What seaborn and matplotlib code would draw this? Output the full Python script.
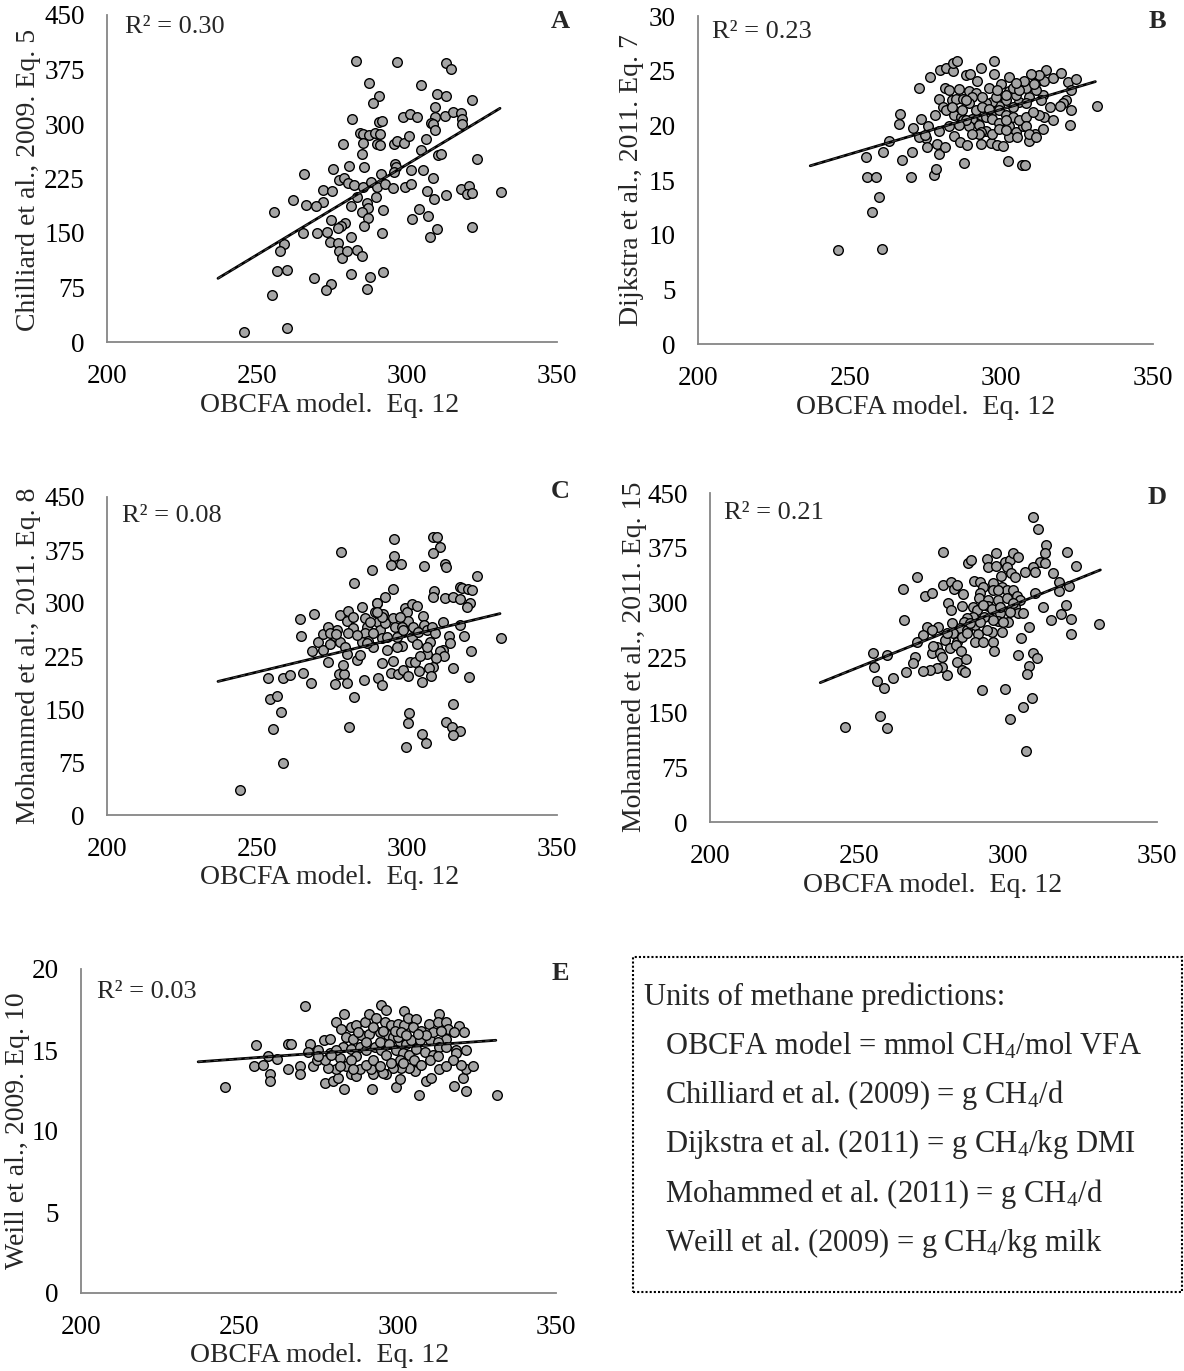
import numpy as np
import pandas as pd
import matplotlib
matplotlib.use("Agg")
import matplotlib.pyplot as plt
import seaborn as sns
from matplotlib.patches import Rectangle

# ---------------- data ----------------
x_ticks = [200, 250, 300, 350]
x_label = "OBCFA model.  Eq. 12"

a_pts = [(283.0,386.7),(296.6,384.9),(313.0,384.4),(314.8,375.2),(287.3,356.9),(304.6,353.7),(290.8,339.0),(288.7,328.4),(309.9,341.3),(313.0,338.5),(321.7,332.6),(309.4,323.9),(281.7,307.3),(298.6,309.2),(301.0,313.8),(303.3,309.6),(309.2,309.2),(312.8,310.6),(315.4,316.5),(317.9,315.6),(318.2,306.9),(318.3,299.6),(307.9,300.9),(308.6,300.0),(309.2,291.7),(290.7,302.3),(291.7,303.7),(284.3,287.2),(285.4,285.8),(287.3,284.9),(289.2,287.6),(291.0,285.8),(278.8,272.9),(285.4,273.4),(290.1,272.5),(291.1,271.1),(295.8,272.0),(296.6,277.1),(299.1,274.3),(300.8,284.0),(306.3,279.4),(304.8,264.7),(310.4,257.3),(311.2,258.7),(323.4,252.3),(284.9,259.2),(275.4,238.5),(280.6,242.2),(285.8,240.8),(296.1,245.0),(296.3,240.8),(295.7,234.4),(301.2,237.2),(305.4,237.2),(291.2,231.2),(265.7,231.7),(277.2,222.9),(279.0,225.2),(280.2,219.3),(282.3,216.5),(285.4,213.8),(287.9,219.7),(289.9,212.9),(292.7,217.4),(295.2,211.5),(299.3,213.8),(301.3,217.4),(308.8,225.7),(306.6,208.3),(312.9,201.8),(309.1,197.3),(317.9,211.0),(320.6,215.1),(320.1,204.1),(321.6,204.6),(331.2,206.4),(272.1,209.2),(275.0,207.8),(272.1,193.1),(269.7,186.7),(266.3,189.0),(262.1,195.0),(255.7,179.4),(283.2,200.0),(281.2,187.6),(286.7,190.8),(287.0,184.0),(284.9,179.4),(289.6,199.1),(292.1,181.2),(287.1,170.2),(285.6,160.1),(274.7,168.4),(279.4,163.8),(277.9,159.6),(277.0,156.4),(281.3,144.5),(291.8,149.5),(301.8,169.3),(304.0,182.6),(307.0,172.9),(310.1,155.5),(307.7,144.5),(321.7,157.8),(265.4,150.5),(269.9,150.5),(273.2,151.4),(274.4,137.6),(276.9,136.2),(277.4,124.8),(278.3,115.2),(279.9,124.8),(283.3,126.6),(285.1,118.8),(259.1,134.9),(257.8,125.7),(256.6,97.3),(260.1,99.6),(269.1,88.1),(274.8,79.8),(272.9,72.0),(281.3,93.1),(287.7,89.5),(292.1,95.9),(286.6,73.4),(254.9,64.2),(259.9,19.7),(245.6,13.8)]

b_pts = [(246.3,8.6),(260.7,8.7),(257.4,12.1),(259.7,13.4),(255.8,15.3),(258.6,15.3),(255.5,17.1),(261.0,17.6),(262.9,18.6),(267.1,16.8),(270.1,15.3),(270.5,17.6),(266.4,20.1),(266.7,21.0),(272.7,23.4),(276.5,24.4),(271.0,19.8),(273.4,20.6),(275.1,18.8),(275.4,18.0),(277.7,15.5),(278.4,16.0),(278.8,18.3),(279.3,17.4),(281.5,18.0),(278.2,20.9),(275.7,19.9),(279.8,25.1),(281.8,25.2),(284.2,25.0),(284.1,25.7),(285.4,25.9),(288.2,24.6),(289.8,24.7),(293.2,25.25),(297.6,25.9),(297.6,24.7),(292.1,24.1),(299.8,23.8),(281.5,23.45),(282.7,23.2),(286.2,23.3),(289.3,23.1),(291.7,23.0),(279.3,22.45),(283.7,22.3),(285.1,22.45),(287.2,22.4),(280.8,21.7),(281.9,21.4),(284.3,20.9),(286.8,20.8),(287.3,20.5),(290.4,20.6),(293.2,20.9),(294.8,20.8),(296.5,21.1),(297.0,20.6),(284.4,19.0),(286.5,18.5),(288.7,18.2),(287.6,16.6),(293.2,18.3),(296.5,18.4),(298.7,18.2),(300.6,18.1),(302.3,16.7),(306.8,16.4),(307.9,16.4),(289.3,19.9),(292.6,20.0),(294.8,19.5),(293.2,19.4),(297.0,19.2),(299.2,20.2),(302.6,19.9),(304.8,19.4),(302.6,18.9),(305.3,18.9),(307.0,19.9),(309.0,18.6),(311.2,19.2),(313.6,19.7),(314.2,20.8),(312.5,20.9),(317.0,20.5),(322.5,20.0),(323.1,21.4),(321.4,22.3),(320.3,22.0),(319.2,21.8),(315.9,21.7),(313.6,22.8),(311.4,23.2),(309.2,22.6),(308.1,23.4),(311.4,24.0),(314.2,24.1),(314.8,25.1),(312.5,24.6),(309.8,24.7),(307.6,24.1),(310.7,23.8),(317.0,24.3),(319.7,24.8),(321.9,24.0),(324.7,24.2),(323.1,23.2),(331.5,21.8),(305.9,22.1),(303.7,21.7),(301.5,22.3),(299.2,21.8),(302.6,23.1),(304.8,22.75),(297.0,22.1),(294.8,22.0),(293.7,22.6),(290.4,22.6),(289.3,22.0),(287.1,21.4),(283.7,21.7),(299.2,21.4),(301.5,20.9),(303.7,20.8),(305.9,20.5),(308.1,20.8),(310.3,21.2),(301.5,20.5),(298.1,22.6),(295.9,23.4),(298.7,23.2),(301.5,22.75),(303.7,23.45),(305.9,23.2),(299.2,19.7),(301.5,19.6),(308.1,19.9),(309.2,19.2),(311.4,18.9),(292.6,19.2),(290.4,19.2),(288.2,20.5),(286.0,20.0),(291.5,21.4),(293.7,21.7),(295.9,21.5),(308.1,22.0),(313.1,22.3),(302.6,24.4),(304.8,23.9),(288.2,22.3),(279.3,19.5),(282.6,19.9),(272.7,18.9),(274.9,19.1)]

c_pts = [(244.3,36.0),(258.8,73.1),(255.2,122.2),(257.9,145.7),(254.3,163.7),(256.6,168.9),(253.8,193.4),(258.8,194.3),(261.0,198.1),(265.2,200.5),(267.9,186.3),(264.3,276.9),(264.6,253.8),(269.0,284.0),(268.2,232.1),(270.2,245.3),(272.1,233.5),(271.9,256.1),(273.8,266.5),(274.3,242.0),(273.8,217.0),(276.0,253.8),(278.0,372.2),(282.3,328.8),(288.4,346.7),(295.8,390.6),(295.8,367.0),(294.7,353.8),(298.0,354.7),(295.2,319.3),(292.7,308.0),(290.1,299.5),(305.8,352.3),(308.8,393.9),(310.1,393.9),(311.0,379.7),(308.8,370.3),(312.7,355.2),(312.9,351.4),(323.2,338.2),(317.7,323.1),(318.2,320.8),(320.4,319.3),(321.6,318.4),(309.0,317.4),(308.8,309.0),(312.7,306.6),(315.2,309.0),(317.7,305.2),(321.0,299.5),(319.9,294.8),(331.2,250.9),(317.7,268.9),(319.0,253.8),(314.1,253.8),(314.3,243.9),(312.1,233.5),(311.0,231.6),(312.3,225.5),(309.7,222.6),(308.8,209.9),(307.4,208.5),(308.1,196.7),(315.2,208.5),(320.8,195.8),(321.4,231.6),(304.9,187.7),(304.1,203.8),(301.0,217.0),(302.7,217.0),(306.8,227.4),(304.3,225.5),(315.2,157.1),(300.8,143.9),(300.4,130.6),(299.7,96.7),(305.0,114.1),(306.3,102.3),(313.0,131.1),(314.9,125.0),(317.7,119.3),(315.4,113.2),(280.8,125.0),(282.3,166.5),(276.0,184.9),(277.2,199.5),(279.0,199.5),(279.9,187.3),(278.8,212.3),(285.8,191.0),(290.4,194.3),(291.6,184.0),(294.7,200.5),(297.1,199.1),(298.8,204.7),(300.2,196.7),(295.2,217.9),(291.6,215.6),(277.7,283.0),(280.4,289.1),(279.9,275.0),(282.1,264.1),(280.4,257.1),(277.7,245.3),(279.3,238.2),(279.9,227.3),(283.2,219.3),(284.3,226.4),(284.9,293.9),(286.0,278.3),(286.6,266.5),(286.0,257.1),(287.1,246.7),(288.8,237.3),(289.9,300.5),(289.3,287.7),(292.1,284.4),(290.4,273.6),(291.0,261.8),(291.6,250.0),(293.2,233.5),(295.4,278.3),(296.0,266.5),(296.6,252.4),(298.2,239.2),(299.3,292.4),(300.1,287.7),(301.6,298.6),(303.2,295.7),(300.4,275.0),(301.9,266.5),(301.6,252.4),(303.2,242.0),(305.4,281.6),(305.7,268.9),(306.6,261.8),(308.2,266.5),(309.3,257.1),(307.7,245.3),(306.6,238.2),(312.1,273.6),(298.2,266.5),(284.9,245.3),(287.7,273.6),(292.7,271.2),(283.2,254.7),(282.1,280.6),(288.8,257.1),(293.2,252.4),(298.8,261.8),(303.8,259.4),(296.6,238.2),(297.7,280.6),(286.6,242.9),(276.6,261.8),(274.3,257.1),(276.3,256.1),(291.6,280.6),(290.1,287.7)]

d_pts = [(308.5,416.8),(309.9,400.8),(312.6,379.0),(312.4,368.5),(319.9,368.9),(322.8,350.2),(310.7,356.2),(312.4,353.9),(308.5,349.3),(309.1,342.5),(305.7,342.5),(315.0,341.1),(317.2,328.8),(320.6,322.9),(317.2,316.5),(309.1,312.8),(311.9,293.7),(319.5,296.9),(317.8,284.6),(321.0,278.2),(314.3,276.4),(321.0,257.2),(330.7,270.9),(278.3,369.8),(269.4,335.6),(264.9,318.8),(272.2,309.2),(274.4,313.8),(278.1,324.2),(280.8,328.8),(281.9,318.3),(282.8,324.2),(285.0,311.5),(265.1,276.4),(280.0,299.2),(280.8,290.0),(284.5,295.5),(286.7,354.8),(287.5,358.4),(293.1,359.8),(296.0,368.5),(293.4,348.4),(296.0,350.2),(299.0,356.2),(300.7,358.4),(301.6,368.5),(303.5,362.1),(299.6,348.4),(300.9,340.2),(302.4,334.7),(297.5,336.5),(288.6,330.2),(290.6,328.8),(291.5,321.0),(294.9,327.4),(295.1,317.4),(297.9,321.9),(299.6,317.4),(290.6,312.8),(290.4,306.0),(293.4,303.7),(296.8,303.7),(299.6,306.0),(301.8,317.4),(302.9,309.2),(304.0,303.7),(288.4,294.6),(289.5,290.0),(293.4,295.5),(294.5,290.9),(302.4,294.6),(303.5,285.5),(300.7,287.8),(305.2,286.4),(297.3,285.5),(300.1,274.1),(296.8,275.0),(298.2,274.1),(295.1,276.4),(292.0,280.9),(290.1,275.4),(288.4,280.9),(286.1,278.6),(285.2,274.1),(283.9,264.9),(286.1,262.7),(288.9,269.5),(290.6,274.1),(276.6,267.2),(272.7,266.3),(271.6,255.8),(274.4,262.7),(269.4,246.7),(278.9,249.0),(281.7,258.1),(282.8,246.7),(284.5,253.6),(286.4,258.1),(290.1,257.2),(288.9,246.7),(291.7,246.7),(295.1,246.7),(295.3,234.0),(294.5,260.4),(297.9,260.4),(307.2,267.2),(304.3,251.3),(303.5,228.5),(308.5,230.8),(309.6,223.9),(307.2,213.9),(306.5,202.0),(279.4,258.1),(276.1,239.9),(274.4,230.8),(277.2,231.7),(277.8,226.2),(274.7,240.8),(280.5,237.6),(282.6,242.2),(284.1,234.4),(282.8,219.4),(285.9,223.0),(284.5,208.0),(285.6,205.7),(279.4,201.1),(277.8,212.5),(276.3,210.2),(273.8,208.0),(271.4,207.0),(268.8,226.2),(268.2,218.0),(265.8,205.7),(261.5,196.6),(259.5,228.5),(254.6,230.8),(255.0,212.5),(255.9,192.9),(258.5,183.8),(257.1,145.5),(259.3,128.2),(245.2,130.4),(291.2,180.6),(299.0,182.4),(300.7,140.9),(304.9,156.9),(308.0,169.2),(306.1,97.6),(291.7,296.9),(296.8,317.4),(301.8,299.2),(292.9,262.7),(287.3,271.8),(281.1,271.8),(297.3,294.6)]

e_pts = [(245.4,12.7),(270.6,17.7),(331.4,12.25),(306.6,12.2),(283.0,17.2),(294.8,17.8),(296.4,17.5),(302.1,17.4),(313.0,17.2),(255.2,15.3),(265.4,15.4),(266.4,15.4),(254.5,14.0),(257.5,14.1),(259.1,14.6),(262.0,14.45),(259.8,13.5),(259.8,13.1),(265.3,13.85),(269.0,14.0),(269.3,13.5),(272.2,15.4),(271.7,14.9),(273.3,14.0),(274.5,14.4),(274.9,15.0),(276.6,15.6),(278.5,15.7),(277.2,12.95),(279.6,13.1),(281.1,13.25),(280.6,13.8),(278.0,13.9),(276.9,14.4),(278.5,14.8),(281.7,14.5),(283.8,14.0),(285.3,13.5),(286.7,13.4),(288.0,13.8),(283.0,12.6),(292.0,12.6),(299.5,12.7),(300.6,13.2),(309.0,13.1),(310.6,13.3),(317.9,12.8),(321.6,12.5),(320.6,13.25),(321.6,13.8),(323.7,14.0),(320.0,14.1),(313.0,13.8),(306.9,14.1),(305.6,13.7),(303.7,13.9),(301.1,13.9),(298.5,13.9),(296.4,13.5),(295.3,13.6),(292.2,13.5),(291.7,13.8),(290.1,14.1),(280.4,16.7),(282.2,16.3),(285.3,16.4),(286.9,16.55),(289.6,16.75),(290.8,17.2),(293.2,17.0),(295.9,16.7),(298.0,16.55),(300.1,16.6),(301.9,16.55),(303.2,16.95),(305.8,16.9),(304.8,16.45),(307.4,16.2),(309.8,16.6),(312.7,16.75),(315.3,16.75),(315.8,16.3),(319.3,16.5),(321.1,16.1),(317.9,16.1),(315.3,15.7),(283.8,15.8),(285.9,15.7),(288.5,15.9),(291.1,16.0),(294.3,16.1),(296.9,15.9),(298.5,15.8),(300.6,15.5),(302.7,15.4),(304.3,15.6),(306.9,15.6),(310.1,15.6),(312.7,15.5),(313.2,15.2),(318.3,15.0),(318.5,14.8),(321.6,15.0),(282.7,15.2),(285.3,15.05),(288.0,15.2),(290.1,15.0),(292.7,15.2),(294.8,15.0),(296.4,14.7),(299.5,15.0),(301.6,14.8),(303.7,14.7),(305.8,15.05),(308.5,14.9),(311.1,14.7),(315.3,15.2),(300.6,14.4),(305.3,14.4),(307.4,14.1),(310.1,14.4),(292.2,14.4),(286.9,14.6),(285.3,14.4),(290.1,15.5),(294.3,15.5),(297.4,15.4),(280.6,15.0),(279.0,14.7),(274.8,14.6),(301.6,14.2),(298.0,14.2),(294.3,14.0),(285.9,13.8),(281.7,14.0),(312.7,14.6),(317.4,14.4),(315.3,14.0),(300.1,15.8),(287.4,16.1),(292.2,16.45),(295.3,16.2),(299.0,16.2),(301.1,16.1),(311.1,16.1),(313.7,16.2),(309.0,15.9),(306.4,16.0),(302.7,15.9)]

# trendline end points
trend_x = [237, 331]
a_trend = [87.6, 321.6]
b_trend = [16.3, 24.0]
c_trend = [189.0, 285.0]
d_trend = [190.6, 344.8]
e_trend = [14.27, 15.6]

r2_labels = ["R² = 0.30", "R² = 0.23", "R² = 0.08", "R² = 0.21", "R² = 0.03"]
panel_letters = ["A", "B", "C", "D", "E"]
y_labels = ["Chilliard et al., 2009. Eq. 5", "Dijkstra et al., 2011. Eq. 7",
            "Mohammed et al., 2011. Eq. 8", "Mohammed et al., 2011. Eq. 15",
            "Weill et al., 2009. Eq. 10"]
y_ticks_list = [list(range(0, 451, 75)), list(range(0, 31, 5)), list(range(0, 451, 75)),
                list(range(0, 451, 75)), list(range(0, 21, 5))]

legend_title = "Units of methane predictions:"
legend_lines = ["OBCFA model = mmol CH$_4$/mol VFA",
                "Chilliard et al. (2009) = g CH$_4$/d",
                "Dijkstra et al. (2011) = g CH$_4$/kg DMI",
                "Mohammed et al. (2011) = g CH$_4$/d",
                "Weill et al. (2009) = g CH$_4$/kg milk"]

# ---------------- style ----------------
sns.set_style("white")
plt.rcParams['font.family'] = ['Liberation Serif', 'DejaVu Serif']
plt.rcParams['mathtext.fontset'] = 'custom'
plt.rcParams['mathtext.rm'] = 'Liberation Serif'
plt.rcParams['mathtext.it'] = 'Liberation Serif:italic'
plt.rcParams['mathtext.bf'] = 'Liberation Serif:bold'

W, H = 1184, 1371
fig = plt.figure(figsize=(W / 100, H / 100), dpi=100)

def rect(l, t, r, b):
    return [l / W, 1 - b / H, (r - l) / W, (b - t) / H]

# layout in pixels: (left, top, right, bottom)
axes_px = [(107, 15, 557, 342), (698, 16, 1153, 344), (107, 497, 557, 815),
           (710, 493, 1157, 822), (81, 969, 556, 1293)]
ylab_pos = [(29, 180), (632, 180), (29, 656), (634, 657), (18, 1131)]
xlab_pos = [(330, 405), (926, 407), (330, 878), (933, 885), (320, 1355)]
letter_pos = [(560, 22), (1157, 22), (560, 492), (1157, 497), (560, 973)]
r2_pos = [(125, 27), (712, 32), (122, 516), (724, 513), (97, 992)]

data_sets = [a_pts, b_pts, c_pts, d_pts, e_pts]
trends = [a_trend, b_trend, c_trend, d_trend, e_trend]

spine_col = '#868686'
FS_TICK = 19.5
FS_TITLE = 20
FS_NOTE = 19

for i in range(5):
    ax = fig.add_axes(rect(*axes_px[i]))
    df = pd.DataFrame(data_sets[i], columns=["x", "y"])
    sns.scatterplot(data=df, x="x", y="y", ax=ax, s=48, color='#A5A5A5',
                    edgecolor='black', linewidth=1.0, zorder=3, legend=False)
    ax.plot(trend_x, trends[i], color='black', lw=2.0, zorder=4)
    ax.plot(trend_x, trends[i], color='#444444', lw=0.8, ls=(0, (4, 3)), zorder=5)
    yt = y_ticks_list[i]
    ax.set_xlim(200, 350)
    ax.set_ylim(yt[0], yt[-1])
    ax.set_xticks(x_ticks)
    ax.set_yticks(yt)
    ax.set_xlabel("")
    ax.set_ylabel("")
    for s in ['top', 'right']:
        ax.spines[s].set_visible(False)
    for s in ['left', 'bottom']:
        ax.spines[s].set_color(spine_col)
        ax.spines[s].set_linewidth(1.3)
    ax.tick_params(axis='both', direction='out', length=5, width=1.3, color=spine_col,
                   labelsize=FS_TICK, labelcolor='black')
    ax.tick_params(axis='y', pad=11)
    ax.tick_params(axis='x', pad=11)
    ax.patch.set_alpha(0)
    for lab in ax.get_xticklabels() + ax.get_yticklabels():
        lab.set_clip_on(False)

    fig.text(ylab_pos[i][0] / W, 1 - ylab_pos[i][1] / H, y_labels[i], rotation=90,
             ha='center', va='center', fontsize=FS_TITLE)
    fig.text(xlab_pos[i][0] / W, 1 - xlab_pos[i][1] / H, x_label,
             ha='center', va='center', fontsize=FS_TITLE)
    fig.text(letter_pos[i][0] / W, 1 - letter_pos[i][1] / H, panel_letters[i],
             ha='center', va='center', fontsize=FS_NOTE, fontweight='bold')
    fig.text(r2_pos[i][0] / W, 1 - r2_pos[i][1] / H, r2_labels[i],
             ha='left', va='center', fontsize=FS_NOTE)

# units box
box = Rectangle((633 / W, 1 - 1292 / H), (1182 - 633) / W, (1292 - 957) / H,
                transform=fig.transFigure, fill=False, edgecolor='black',
                linewidth=1.5, linestyle=(0, (1, 1)))
fig.add_artist(box)
fig.text(644 / W, 1 - 997 / H, legend_title, ha='left', va='center', fontsize=22)
for k, line in enumerate(legend_lines):
    fig.text(665 / W, 1 - (1046 + 49.2 * k) / H, line, ha='left', va='center', fontsize=22)

fig.savefig("out.png", dpi=100)
